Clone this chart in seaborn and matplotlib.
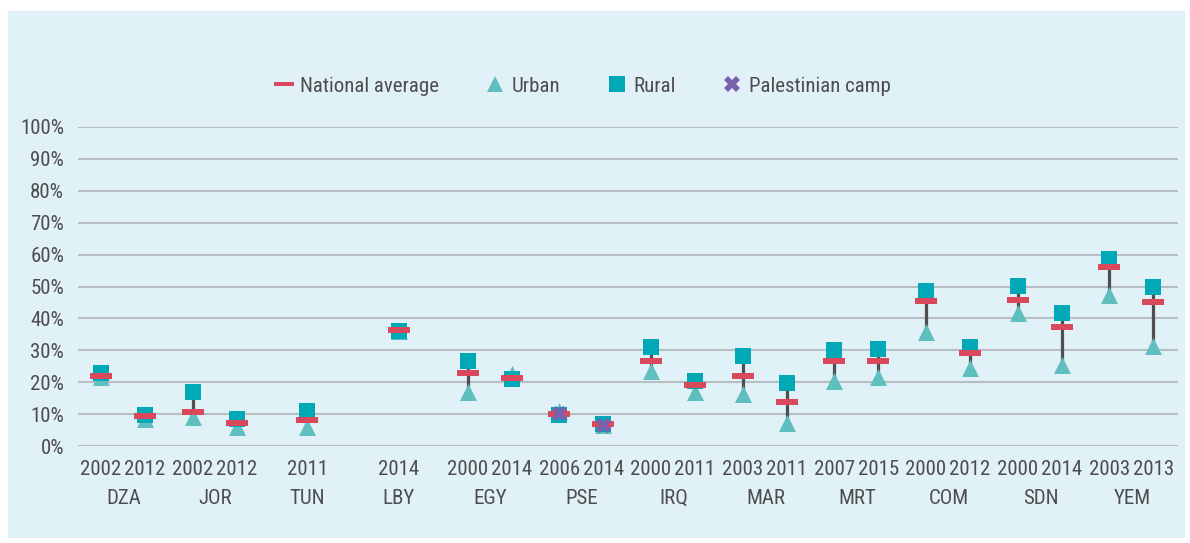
import numpy as np
import pandas as pd
import matplotlib.pyplot as plt
import seaborn as sns
from matplotlib.lines import Line2D
from matplotlib.patches import Rectangle
from matplotlib import font_manager

# survey data (share in %)
countries = ['DZA', 'JOR', 'TUN', 'LBY', 'EGY', 'PSE', 'IRQ', 'MAR', 'MRT', 'COM', 'SDN', 'YEM']
survey_country = ['DZA', 'DZA', 'JOR', 'JOR', 'TUN', 'LBY', 'EGY', 'EGY', 'PSE', 'PSE', 'IRQ', 'IRQ',
                  'MAR', 'MAR', 'MRT', 'MRT', 'COM', 'COM', 'SDN', 'SDN', 'YEM', 'YEM']
survey_year = ['2002', '2012', '2002', '2012', '2011', '2014', '2000', '2014', '2006', '2014', '2000', '2011',
               '2003', '2011', '2007', '2015', '2000', '2012', '2000', '2014', '2003', '2013']
national = [22, 9.3, 10.7, 7.2, 8, 36.5, 23, 21.3, 10, 6.8, 26.5, 19,
            22, 13.8, 26.5, 26.5, 45.3, 29, 45.8, 37.3, 56, 45]
urban = [21.5, 8.5, 9.2, 6, 6, 36, 17, 22.5, 11, 6.5, 23.5, 17,
         16.3, 7.3, 20.5, 21.5, 35.8, 24.5, 41.7, 25.5, 47.3, 31.3]
rural = [23, 9.8, 17, 8.5, 11, 36, 26.8, 21, 9.8, 7, 31, 20.3,
         28.3, 19.8, 30, 30.5, 48.5, 31, 50.3, 41.8, 58.5, 50]
camp = [np.nan] * 8 + [10.3, 6.5] + [np.nan] * 12

c_nat = '#d9495b'
c_urban = '#5fbfbe'
c_rural = '#00a9b5'
c_camp = '#7a60ad'
c_text = '#4d4d4d'
c_grid = '#b7bec2'

sns.set_style('white')
# prefer a narrow face if one is installed
names = {f.name for f in font_manager.fontManager.ttflist}
narrow = [n for n in ['Roboto Condensed', 'Liberation Sans Narrow', 'DejaVu Sans Condensed',
                      'Open Sans Condensed'] if n in names]
plt.rcParams['font.family'] = narrow + ['Roboto', 'DejaVu Sans']
fs = 15 if narrow else 12.5
fs_year = 15 if narrow else 12

# x position of every survey: one slot per country, two surveys share it
pos = []
for i, c in enumerate(countries):
    n = survey_country.count(c)
    if n == 1:
        pos.append(i + 0.5)
    else:
        pos.extend([i + 0.25, i + 0.73])

df = pd.DataFrame({'pos': pos, 'country': survey_country, 'year': survey_year,
                   'national': national, 'urban': urban, 'rural': rural, 'camp': camp})

fig = plt.figure(figsize=(11.9, 5.43), dpi=100)
fig.patch.set_facecolor('white')
fig.patches.append(Rectangle((8 / 1190, 1 - 537 / 543), 1176 / 1190, 526 / 543,
                             transform=fig.transFigure, color='#e1f1f8', zorder=-1))
ax = fig.add_axes([78 / 1190, 97 / 543, 1100 / 1190, 319 / 543])
ax.set_facecolor('none')

# range line urban-rural
ax.vlines(df['pos'], df[['urban', 'rural']].min(axis=1), df[['urban', 'rural']].max(axis=1),
          color='#4f4f4f', lw=2.3, zorder=2)

dash = [(-1, -0.24), (1, -0.24), (1, 0.24), (-1, 0.24)]
sns.scatterplot(data=df, x='pos', y='urban', marker='^', s=150, color=c_urban, linewidth=0, ax=ax, zorder=3)
sns.scatterplot(data=df, x='pos', y='rural', marker='s', s=125, color=c_rural, linewidth=0, ax=ax, zorder=4)
sns.scatterplot(data=df, x='pos', y='national', marker=dash, s=240, color=c_nat, linewidth=0, ax=ax, zorder=5)
sns.scatterplot(data=df, x='pos', y='camp', marker='X', s=120, color=c_camp, linewidth=0, ax=ax, zorder=6)

ax.set_xlim(0, len(countries))
ax.set_ylim(0, 100)
ax.set_yticks(range(0, 101, 10))
ax.set_yticklabels([f'{v}%' for v in range(0, 101, 10)], fontsize=fs, color=c_text)
ax.yaxis.grid(True, color=c_grid, lw=1.5)
ax.tick_params(axis='y', length=0, pad=10)
for s in ax.spines.values():
    s.set_visible(False)

# two-level category axis
ax.set_xticks(df['pos'])
ax.set_xticklabels(df['year'], fontsize=fs_year, color=c_text)
ax.set_xticks(np.arange(len(countries) + 1), minor=True)
ax.tick_params(axis='x', which='major', length=0, pad=10)
ax.tick_params(axis='x', which='minor', length=49, width=1.2, color=c_grid)
sec = ax.secondary_xaxis('bottom')
sec.set_xticks(np.arange(len(countries)) + 0.5)
sec.set_xticklabels(countries, fontsize=fs, color=c_text)
sec.tick_params(length=0, pad=31)
for s in sec.spines.values():
    s.set_visible(False)
ax.set_xlabel('')
ax.set_ylabel('')

handles = [Line2D([], [], ls='', marker=dash, ms=15, color=c_nat, mew=0),
           Line2D([], [], ls='', marker='^', ms=12, color=c_urban, mew=0),
           Line2D([], [], ls='', marker='s', ms=11, color=c_rural, mew=0),
           Line2D([], [], ls='', marker='X', ms=11, color=c_camp, mew=0)]
fig.legend(handles, ['National average', 'Urban', 'Rural', 'Palestinian camp'],
           loc='center', bbox_to_anchor=(583 / 1190, 1 - 86 / 543), ncol=4, frameon=False,
           fontsize=fs, labelcolor=c_text, handlelength=0.8, handletextpad=0.4, columnspacing=2.3)

fig.savefig('out.png', dpi=100, facecolor=fig.get_facecolor())
